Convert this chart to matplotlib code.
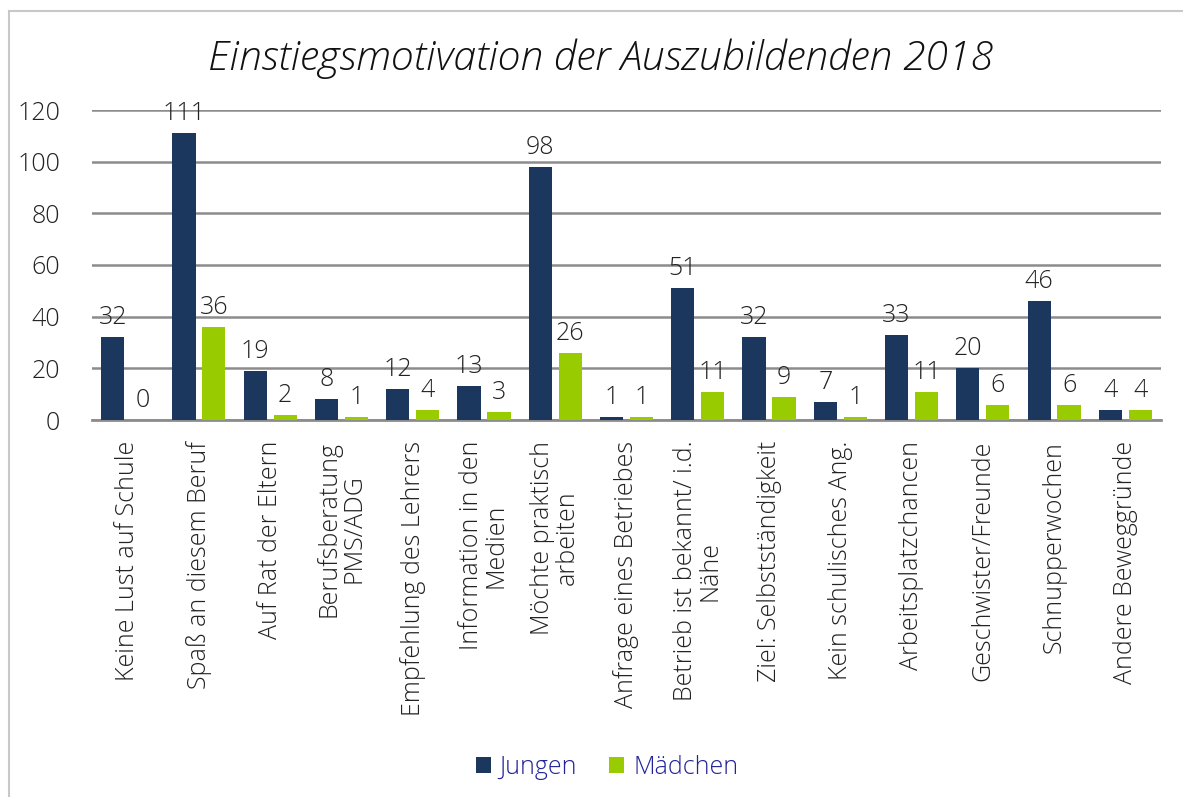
import matplotlib
matplotlib.use("Agg")
import matplotlib.pyplot as plt
import numpy as np
from matplotlib.lines import Line2D

plt.rcParams["font.family"] = ["Open Sans", "DejaVu Sans"]
plt.rcParams["font.weight"] = "light"

categories = [
    "Keine Lust auf Schule",
    "Spaß an diesem Beruf",
    "Auf Rat der Eltern",
    "Berufsberatung\nPMS/ADG",
    "Empfehlung des Lehrers",
    "Information in den\nMedien",
    "Möchte praktisch\narbeiten",
    "Anfrage eines Betriebes",
    "Betrieb ist bekannt/ i.d.\nNähe",
    "Ziel: Selbstständigkeit",
    "Kein schulisches Ang.",
    "Arbeitsplatzchancen",
    "Geschwister/Freunde",
    "Schnupperwochen",
    "Andere Beweggründe",
]
jungen = [32, 111, 19, 8, 12, 13, 98, 1, 51, 32, 7, 33, 20, 46, 4]
maedchen = [0, 36, 2, 1, 4, 3, 26, 1, 11, 9, 1, 11, 6, 6, 4]

c_jungen = "#1b375e"
c_maedchen = "#99cc00"

fig = plt.figure(figsize=(11.83, 7.97), dpi=100)
ax = fig.add_axes([92 / 1183, 1 - 420 / 797, (1161 - 92) / 1183, (420 - 110) / 797])

x = np.arange(len(categories))
w = 0.325
off = 0.21
b1 = ax.bar(x - off, jungen, w, color=c_jungen, label="Jungen", zorder=3)
b2 = ax.bar(x + off, maedchen, w, color=c_maedchen, label="Mädchen", zorder=3)

for bars, vals in ((b1, jungen), (b2, maedchen)):
    for r, v in zip(bars, vals):
        ax.annotate(str(v), (r.get_x() + r.get_width() / 2, v),
                    xytext=(0, 5), textcoords="offset points",
                    ha="center", va="bottom", fontsize=18, color="#222222")

ax.set_xlim(-0.5, len(categories) - 0.5)
ax.set_ylim(0, 120)
ax.set_yticks(range(0, 121, 20))
ax.yaxis.grid(True, color="#8c8c8c", linewidth=1.8, zorder=0)
ax.set_axisbelow(True)
for s in ["top", "right", "left"]:
    ax.spines[s].set_visible(False)
ax.spines["bottom"].set_color("#8c8c8c")
ax.spines["bottom"].set_linewidth(2)
ax.tick_params(axis="y", length=0, labelsize=18, pad=23, labelcolor="#222222")
ax.tick_params(axis="x", length=0, labelsize=18, pad=15, labelcolor="#222222")
ax.set_xticks(x)
ax.set_xticklabels(categories, rotation=90, ha="center", va="top",
                   multialignment="center", linespacing=1.0)

fig.text(0.508, 0.926, "Einstiegsmotivation der Auszubildenden 2018",
         ha="center", va="center", fontsize=29.5, style="italic",
         color="#111111")

leg = fig.legend(handles=[b1, b2], loc="center", bbox_to_anchor=(0.513, 0.037),
                 ncol=2, frameon=False, fontsize=18, handlelength=0.6,
                 handleheight=0.6, columnspacing=1.3, handletextpad=0.35)
for t in leg.get_texts():
    t.set_color("#22229a")

# chart frame (top and left edge)
fig.add_artist(Line2D([9 / 1183, 9 / 1183], [0, 1 - 11 / 797], transform=fig.transFigure,
                      color="#c8c8c8", linewidth=1.5))
fig.add_artist(Line2D([9 / 1183, 1], [1 - 11 / 797, 1 - 11 / 797], transform=fig.transFigure,
                      color="#c8c8c8", linewidth=1.5))

fig.savefig("out.png", dpi=100, facecolor="white")
